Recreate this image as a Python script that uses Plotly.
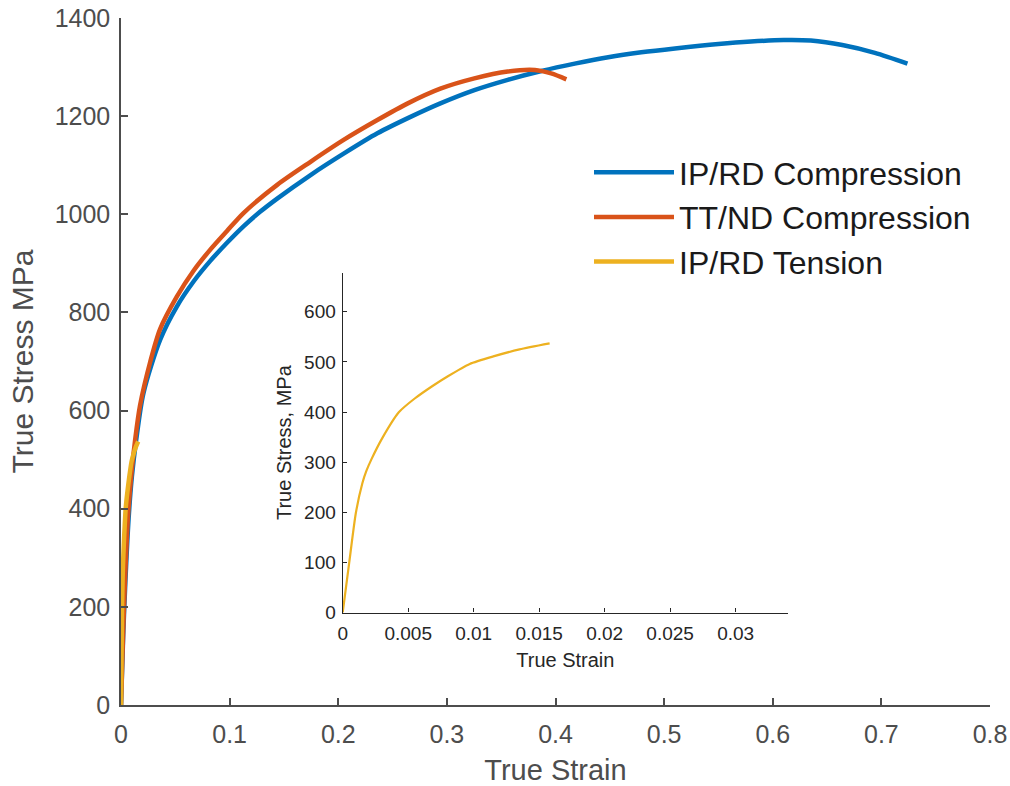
import plotly.graph_objects as go

# ---- data ----
ip_rd_comp_strain = [0, 0.002, 0.004, 0.007, 0.010, 0.014, 0.0206, 0.036, 0.0514, 0.0668,
                     0.0822, 0.0976, 0.113, 0.128, 0.1438, 0.1745, 0.2053, 0.236, 0.267,
                     0.294, 0.3253, 0.356, 0.387, 0.4177, 0.4485, 0.479, 0.510, 0.550,
                     0.580, 0.610, 0.635, 0.664, 0.694, 0.724]
ip_rd_comp_stress = [0, 140, 250, 380, 465, 540, 635, 744, 812, 863,
                     905, 942, 976, 1005, 1032, 1080, 1124, 1165, 1199,
                     1226, 1253, 1274, 1292, 1307, 1320, 1330, 1338, 1347,
                     1352, 1355, 1354, 1345, 1329, 1307]

tt_nd_comp_strain = [0, 0.002, 0.0037, 0.0066, 0.010, 0.013, 0.0175, 0.027, 0.036, 0.0514,
                     0.0668, 0.0822, 0.0976, 0.113, 0.1438, 0.1745, 0.2053, 0.236, 0.264,
                     0.294, 0.3253, 0.356, 0.381, 0.396, 0.410]
tt_nd_comp_stress = [0, 150, 255, 390, 480, 540, 610, 700, 766, 832,
                     885, 928, 966, 1003, 1060, 1107, 1152, 1192, 1226,
                     1256, 1277, 1291, 1294, 1287, 1275]

tension_strain = [0, 0.0005, 0.0010, 0.0015, 0.0018, 0.0022, 0.0030, 0.0043, 0.0055,
                  0.0068, 0.0080, 0.0097, 0.0115, 0.0135, 0.0158]
tension_stress = [0, 100, 198, 258, 282, 306, 347, 400, 427,
                  451, 471, 496, 511, 525, 537]

main_xticks = [0, 0.1, 0.2, 0.3, 0.4, 0.5, 0.6, 0.7, 0.8]
main_xticklabels = ["0", "0.1", "0.2", "0.3", "0.4", "0.5", "0.6", "0.7", "0.8"]
main_yticks = [0, 200, 400, 600, 800, 1000, 1200, 1400]
inset_xticks = [0, 0.005, 0.01, 0.015, 0.02, 0.025, 0.03]
inset_xticklabels = ["0", "0.005", "0.01", "0.015", "0.02", "0.025", "0.03"]
inset_yticks = [0, 100, 200, 300, 400, 500, 600]

BLUE = "#0072BD"
ORANGE = "#D95319"
YELLOW = "#EDB120"
FONT = "Liberation Sans, Arial, sans-serif"
MAIN_GREY = "#4d4d4d"
INSET_DARK = "#262626"

fig = go.Figure()
fig.add_trace(go.Scatter(x=ip_rd_comp_strain, y=ip_rd_comp_stress, mode="lines",
                         name="IP/RD Compression",
                         line=dict(color=BLUE, width=4.5, shape="spline", smoothing=0.8),
                         xaxis="x", yaxis="y"))
fig.add_trace(go.Scatter(x=tt_nd_comp_strain, y=tt_nd_comp_stress, mode="lines",
                         name="TT/ND Compression",
                         line=dict(color=ORANGE, width=4.5, shape="spline", smoothing=0.8),
                         xaxis="x", yaxis="y"))
fig.add_trace(go.Scatter(x=tension_strain, y=tension_stress, mode="lines",
                         name="IP/RD Tension",
                         line=dict(color=YELLOW, width=4.5, shape="spline", smoothing=0.6),
                         xaxis="x", yaxis="y"))
fig.add_trace(go.Scatter(x=tension_strain, y=tension_stress, mode="lines",
                         showlegend=False,
                         line=dict(color=YELLOW, width=2.2, shape="spline", smoothing=0.6),
                         xaxis="x2", yaxis="y2"))

L, R, T, B = 121, 20, 18, 81
W, H = 1010, 786
pw = W - L - R
ph = H - T - B

def px_x(p):
    return (p - L) / pw

def px_y(p):
    return (H - B - p) / ph

fig.update_layout(
    width=W, height=H,
    margin=dict(l=L, r=R, t=T, b=B, autoexpand=False),
    paper_bgcolor="white", plot_bgcolor="white",
    font=dict(family=FONT, color=MAIN_GREY),
    xaxis=dict(domain=[0, 1], range=[0, 0.8], tickvals=main_xticks, ticktext=main_xticklabels,
               showline=True, linecolor=MAIN_GREY, linewidth=1.5, ticks="inside", ticklen=7,
               tickcolor=MAIN_GREY, tickwidth=1.5, showgrid=False, zeroline=False,
               automargin=False,
               tickfont=dict(size=25, color=MAIN_GREY), ticklabelstandoff=6,
               title=dict(text="True Strain", font=dict(size=29, color=MAIN_GREY), standoff=19)),
    yaxis=dict(domain=[0, 1], range=[0, 1400], tickvals=main_yticks,
               showline=True, linecolor=MAIN_GREY, linewidth=1.5, ticks="inside", ticklen=7,
               tickcolor=MAIN_GREY, tickwidth=1.5, showgrid=False, zeroline=False,
               automargin=False,
               tickfont=dict(size=25, color=MAIN_GREY), ticklabelstandoff=4,
               title=dict(text="True Stress MPa", font=dict(size=30, color=MAIN_GREY), standoff=12)),
    xaxis2=dict(domain=[px_x(342.7), px_x(788)], anchor="y2", range=[0, 0.034],
                tickvals=inset_xticks, ticktext=inset_xticklabels,
                showline=True, linecolor=INSET_DARK, linewidth=1.2, ticks="inside", ticklen=4,
                tickcolor=INSET_DARK, showgrid=False, zeroline=False, automargin=False,
                tickfont=dict(size=19, color=INSET_DARK), ticklabelstandoff=4,
                title=dict(text="True Strain", font=dict(size=20, color=INSET_DARK), standoff=9)),
    yaxis2=dict(domain=[px_y(612.5), px_y(272.7)], anchor="x2", range=[0, 678],
                tickvals=inset_yticks,
                showline=True, linecolor=INSET_DARK, linewidth=1.2, ticks="inside", ticklen=4,
                tickcolor=INSET_DARK, showgrid=False, zeroline=False, automargin=False,
                tickfont=dict(size=19, color=INSET_DARK), ticklabelstandoff=2,
                title=dict(text="True Stress, MPa", font=dict(size=20, color=INSET_DARK), standoff=7)),
    legend=dict(x=px_x(589), y=px_y(145), xanchor="left", yanchor="top",
                bgcolor="rgba(0,0,0,0)", font=dict(size=32, color="#1a1a1a", family=FONT),
                itemwidth=80, tracegroupgap=0),
    showlegend=True,
)

fig.write_html("out.html")
